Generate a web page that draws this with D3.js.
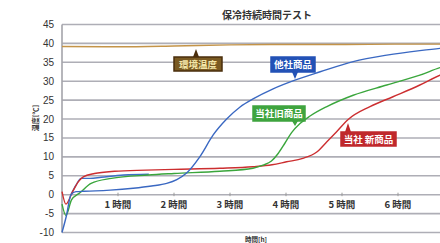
<!DOCTYPE html>
<html><head><meta charset="utf-8">
<script src="https://cdn.jsdelivr.net/npm/d3@7"></script>
<style>body{margin:0;background:#fff;overflow:hidden}svg{display:block}</style>
</head><body>
<script>
// ---- data ----
const title = "保冷持続時間テスト";
const yTicks = [-10,-5,0,5,10,15,20,25,30,35,40,45];
const xTicks = [1,2,3,4,5,6];
const xTickLabels = ["1 時間","2 時間","3 時間","4 時間","5 時間","6 時間"];
const yTitle = "温度[℃]";
const xTitle = "時間[h]";

const ambientT = [0,1,2,3,4,5,6,7];
const ambientV = [39.2,39.1,39.3,39.6,39.7,39.7,39.8,39.8];

const otherT = [0,0.08,0.16,0.25,0.4,0.6,0.86,1.27,1.6,1.87,2.05,2.23,2.46,2.7,2.94,3.18,3.42,3.77,4.16,4.61,5.2,5.8,6.39,6.75,7.0];
const otherV = [-10,-5.5,0,0.8,0.9,1.0,1.2,1.7,2.3,3.0,4.0,5.8,10,15.8,20.0,23.2,25.4,28.0,30.3,32.5,35.2,36.9,38.1,38.7,39.0];

const otherBT = [0.16,0.25,0.34,0.5,0.7,1.1,1.55];
const otherBV = [0,2.5,4.3,4.3,4.6,5.2,5.4];

const oldT = [0,0.07,0.17,0.32,0.52,0.88,1.54,2.0,2.82,3.41,3.59,3.74,3.86,3.98,4.1,4.25,4.43,4.73,5.2,5.8,6.39,6.75,7.0];
const oldV = [-2.5,-5.5,-1.4,0.5,3,4.3,5.2,5.6,6.2,7.0,7.8,8.9,10.9,13.6,16.4,18.8,20.8,23.3,26.3,29,31.6,33.6,34.6];

const newT = [0,0.07,0.19,0.29,0.38,0.58,0.94,1.5,2.0,2.82,3.41,3.75,4.01,4.3,4.55,4.73,4.9,5.11,5.5,5.91,6.39,6.75,7.0];
const newV = [0.8,-2.5,0.8,3.4,4.7,5.6,6.2,6.5,6.7,7.0,7.4,7.9,8.7,9.6,11.3,14,16.6,19.9,23.3,25.9,29,31.6,33];

const labels = ["環境温度","他社商品","当社旧商品","当社 新商品"];

// ---- chart ----
const W = 440, H = 243;
const svg = d3.select("body").append("svg").attr("width",W).attr("height",H);
const x = d3.scaleLinear().domain([0,7]).range([62,454]);
const y = d3.scaleLinear().domain([-10,45]).range([232.5,24.5]);

svg.append("text").attr("x",222).attr("y",19).attr("font-family","'Noto Sans CJK JP'")
  .attr("font-size",10).attr("font-weight",700).attr("fill","#333").text(title);

// gridlines
svg.append("g").selectAll("line").data(yTicks).join("line")
  .attr("x1",62).attr("x2",W).attr("y1",d=>y(d)).attr("y2",d=>y(d))
  .attr("stroke","#aeaeb6").attr("stroke-width",1.6);
svg.append("line").attr("x1",62).attr("x2",62).attr("y1",y(45)).attr("y2",y(-10))
  .attr("stroke","#a4a4aa").attr("stroke-width",1.6);

// y labels
svg.append("g").selectAll("text").data(yTicks).join("text")
  .attr("x",54).attr("y",d=>y(d)+3.5).attr("text-anchor","end")
  .attr("font-family","'Liberation Sans',Arial").attr("font-size",10).attr("fill","#333")
  .text(d=>d);

// x ticks on zero line
svg.append("g").selectAll("line").data(xTicks).join("line")
  .attr("x1",d=>x(d)).attr("x2",d=>x(d)).attr("y1",y(0)-2).attr("y2",y(0)+1.5)
  .attr("stroke","#999").attr("stroke-width",1);
svg.append("g").selectAll("text").data(xTicks).join("text")
  .attr("x",d=>x(d)).attr("y",y(0)+13).attr("text-anchor","middle")
  .attr("font-family","'Noto Sans CJK JP'").attr("font-size",9.5).attr("font-weight",700).attr("fill","#333")
  .text((d,i)=>xTickLabels[i]);

// axis titles
svg.append("text").attr("transform",`translate(38,${118}) rotate(-90)`).attr("text-anchor","middle")
  .attr("font-family","'Noto Sans CJK JP'").attr("font-size",7).attr("font-weight",700).attr("fill","#333").text(yTitle);
svg.append("text").attr("x",256).attr("y",242).attr("text-anchor","middle")
  .attr("font-family","'Noto Sans CJK JP'").attr("font-size",6.5).attr("font-weight",700).attr("fill","#333").text(xTitle);

// lines
const line = d3.line().x(d=>x(d[0])).y(d=>y(d[1])).curve(d3.curveMonotoneX);
const zip = (t,v)=>t.map((d,i)=>[d,v[i]]);
const series = [
  {t:ambientT,v:ambientV,c:"#c49448"},
  {t:otherBT,v:otherBV,c:"#3d6fc6"},
  {t:newT,v:newV,c:"#cc2e30"},
  {t:oldT,v:oldV,c:"#3aa63c"},
  {t:otherT,v:otherV,c:"#3a68c2"}
];
svg.append("g").selectAll("path").data(series).join("path")
  .attr("d",s=>line(zip(s.t,s.v))).attr("fill","none")
  .attr("stroke",s=>s.c).attr("stroke-width",1.4);

// callouts
function callout(x0,y0,w,h,tipX,tipY,fill,txtFill,txt,stroke){
  const g = svg.append("g");
  const up = tipY < y0;
  const baseY = up ? y0 : y0+h;
  g.append("path").attr("d",`M${tipX-3},${baseY}L${tipX},${tipY}L${tipX+3},${baseY}Z`).attr("fill",stroke||fill);
  g.append("rect").attr("x",x0).attr("y",y0).attr("width",w).attr("height",h)
    .attr("fill",fill).attr("stroke",stroke||fill).attr("stroke-width",1.5);
  g.append("text").attr("x",x0+w/2).attr("y",y0+h/2+3.5).attr("text-anchor","middle")
    .attr("font-family","'Noto Sans CJK JP'").attr("font-size",9.5).attr("font-weight",700)
    .attr("fill",txtFill).text(txt);
}
callout(174,57,48,14,196,49,"#7a5a22","#f3e6a8",labels[0],"#4a2e0c");
callout(271,57,44,15,295,79,"#2352b6","#fff",labels[1]);
callout(253,106,52,15,295,126,"#3fa43f","#fff",labels[2]);
callout(341,132,55,14,348,123,"#c0282c","#fff",labels[3]);
</script>
</body></html>
